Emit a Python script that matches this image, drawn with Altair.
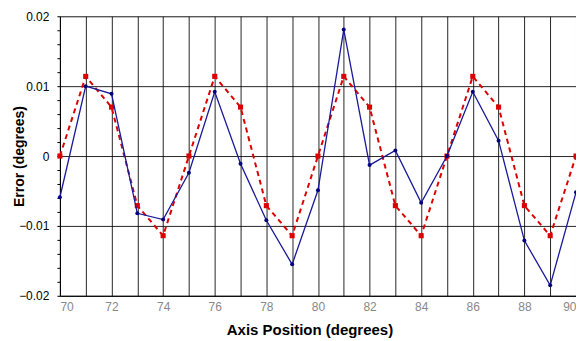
import altair as alt
import pandas as pd

positions = list(range(70, 91))
measured = [-0.0059, 0.0100, 0.0089, -0.0082, -0.0091, -0.0024, 0.0092, -0.0011, -0.0092, -0.0155,
            -0.0049, 0.0181, -0.0013, 0.0008, -0.0067, 0.0000, 0.0092, 0.0022, -0.0121, -0.0185, -0.0052]
model = [0.0, 0.0114, 0.0070, -0.0071, -0.0114, 0.0, 0.0114, 0.0070, -0.0071, -0.0114,
         0.0, 0.0114, 0.0070, -0.0071, -0.0114, 0.0, 0.0114, 0.0070, -0.0071, -0.0114, 0.0]

x_ticks = list(range(70, 91))
y_ticks = [round(-0.02 + 0.002 * i, 3) for i in range(21)]

df = pd.DataFrame({"pos": positions, "measured": measured, "model": model})

x_enc = alt.X("pos:Q",
              scale=alt.Scale(domain=[70, 90], nice=False, zero=False),
              axis=alt.Axis(values=x_ticks, title="Axis Position (degrees)",
                            labelExpr="datum.value % 2 == 0 ? datum.label : ''",
                            grid=True, gridColor="#000000", gridOpacity=0.85, gridWidth=1,
                            ticks=False, domainColor="#000000", domainWidth=1,
                            labelColor="#888888", labelFont="Liberation Sans", labelFontSize=12,
                            labelPadding=6, titleFont="Liberation Sans", titleFontSize=15,
                            titleFontWeight="bold", titleColor="#000000",
                            titleX=250, titleY=39, titleBaseline="alphabetic"))

y_axis = alt.Axis(values=y_ticks, title="Error (degrees)",
                  labelExpr="abs(round(datum.value*100) - datum.value*100) < 0.001 ? format(datum.value, '') : ''",
                  grid=True, gridColor="#000000",
                  gridOpacity={"condition": {"test": "abs(round(datum.value*100) - datum.value*100) < 0.001", "value": 0.85}, "value": 0},
                  tickSize=3, tickColor="#000000", domainColor="#000000",
                  labelColor="#000000", labelFont="Liberation Sans", labelFontSize=12,
                  labelPadding=8, titleFont="Liberation Sans", titleFontSize=14,
                  titleFontWeight="bold", titleColor="#000000",
                  titleX=-33, titleY=140, titleBaseline="bottom", titleAngle=270)

y_meas = alt.Y("measured:Q", scale=alt.Scale(domain=[-0.02, 0.02], nice=False), axis=y_axis)
y_model = alt.Y("model:Q", scale=alt.Scale(domain=[-0.02, 0.02], nice=False), axis=y_axis)

base = alt.Chart(df)

model_line = base.mark_line(color="#dd0000", strokeDash=[5, 4], strokeWidth=2).encode(x=x_enc, y=y_model)
model_pts = base.mark_point(shape="square", filled=True, color="#dd0000", size=26, opacity=1).encode(x=x_enc, y=y_model)
meas_line = base.mark_line(color="#1a1a99", strokeWidth=1.3).encode(x=x_enc, y=y_meas)
meas_pts = base.mark_point(shape="circle", filled=True, color="#000080", size=16, opacity=1).encode(x=x_enc, y=y_meas)

chart = alt.layer(model_line, model_pts, meas_line, meas_pts).properties(
    width=517, height=280,
    autosize=alt.AutoSizeParams(type="none"),
    padding={"left": 52, "top": 8, "right": 0, "bottom": 45},
).configure_view(stroke="#000000", strokeWidth=1).configure(background="#ffffff")

chart.save("out.html", embed_options={"renderer": "svg", "actions": False})
